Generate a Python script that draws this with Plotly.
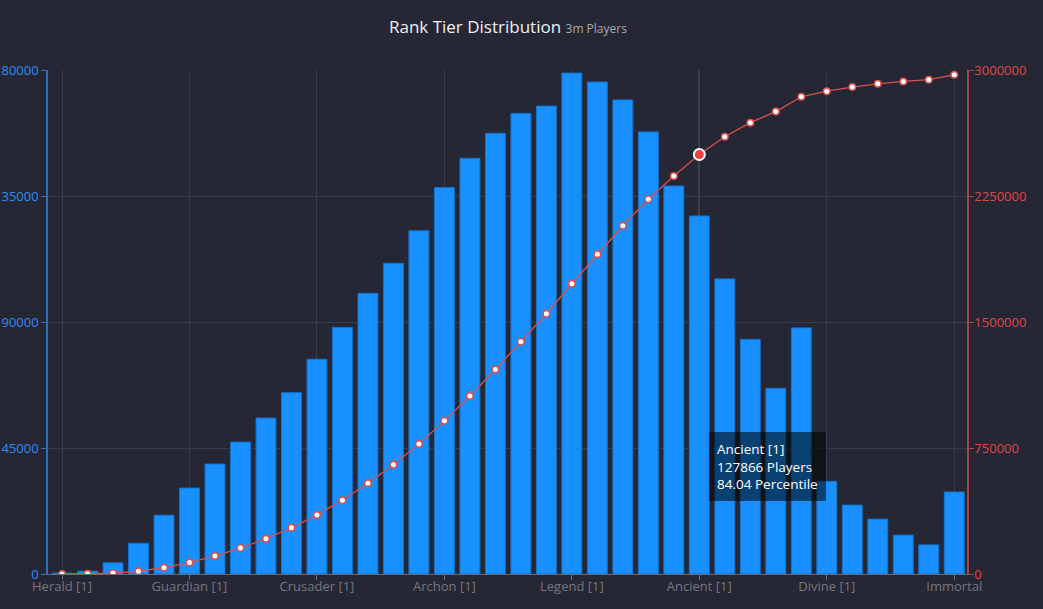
import numpy as np
import plotly.graph_objects as go

tiers = ["Herald", "Guardian", "Crusader", "Archon", "Legend", "Ancient", "Divine"]
categories = [f"{t} [{i}]" for t in tiers for i in range(1, 6)] + ["Immortal"]
tick_labels = [f"{t} [1]" for t in tiers] + ["Immortal"]

players = [
    300, 1000, 4000, 11000, 21000,
    30700, 39300, 47100, 55700, 64750,
    76700, 88100, 100250, 110960, 122600,
    138000, 148460, 157400, 164500, 167100,
    178900, 175700, 169300, 157900, 138570,
    127866, 105400, 83800, 66300, 87900,
    33100, 24600, 19600, 13900, 10400,
    29300,
]

left_ticks = [0, 45000, 90000, 135000, 180000]
right_ticks = [0, 750000, 1500000, 2250000, 3000000]

cumulative = np.cumsum(players)
percentile = cumulative / cumulative[-1] * 100
hi = categories.index("Ancient [1]")

FONT = "Open Sans, Noto Sans, sans-serif"
BLUE = "#1890ff"
RED = "#d9514e"

fig = go.Figure()
fig.add_trace(go.Bar(
    x=categories, y=players, name="Players",
    marker=dict(color=BLUE, line=dict(color="#1673cc", width=1)),
    yaxis="y",
))
fig.add_trace(go.Scatter(
    x=categories, y=cumulative, name="Cumulative", mode="lines+markers",
    line=dict(color=RED, width=1.3),
    marker=dict(size=6.5, color="white", line=dict(color=RED, width=1.5)),
    yaxis="y2",
))
fig.add_trace(go.Scatter(
    x=[categories[hi]], y=[cumulative[hi]], mode="markers",
    marker=dict(size=11, color="#ee4040", line=dict(color="white", width=2)),
    yaxis="y2", showlegend=False,
))

fig.add_shape(type="line", xref="x", yref="paper", x0=categories[hi], x1=categories[hi],
              y0=0, y1=1, line=dict(color="#c8c8c8", width=1), layer="between")

fig.add_annotation(
    xref="x", yref="paper", x=categories[hi], y=0.282, xanchor="left", yanchor="top",
    xshift=10, align="left", showarrow=False,
    text=f"{categories[hi]}<br>{players[hi]} Players<br>{percentile[hi]:.2f} Percentile",
    font=dict(family=FONT, size=13.5, color="white"),
    bgcolor="rgba(0,0,0,0.55)", borderpad=8, borderwidth=0,
)

fig.update_layout(
    width=1043, height=609,
    margin=dict(l=48, r=76, t=70, b=35),
    paper_bgcolor="#262735", plot_bgcolor="#262735",
    showlegend=False, hovermode=False, bargap=0.22,
    font=dict(family=FONT, size=13),
    title=dict(
        text="Rank Tier Distribution <span style='font-size:12px;color:#a9a9b0'>3m Players</span>",
        x=0.487, xanchor="center", y=1 - 27 / 609, yanchor="middle",
        font=dict(family=FONT, size=17, color="#f0f0f0"),
    ),
    xaxis=dict(
        type="category", categoryorder="array", categoryarray=categories,
        range=[-0.55, 35.5], automargin=False,
        tickmode="array", tickvals=tick_labels, ticktext=tick_labels,
        tickfont=dict(color="#75767f", size=13),
        ticklabelstandoff=-5,
        showgrid=True, gridcolor="#3a3b49", gridwidth=1,
        showline=True, linecolor="#6a6b75", linewidth=1,
        ticks="outside", ticklen=5, tickcolor="#6a6b75",
        zeroline=False,
    ),
    yaxis=dict(
        range=[0, 180000], tickmode="array", tickvals=left_ticks, tickformat="d",
        automargin=False,
        tickfont=dict(color="#2f8cf0", size=13),
        showgrid=True, gridcolor="#3a3b49", gridwidth=1,
        showline=True, linecolor="#2d6fc0", linewidth=1.5,
        ticks="outside", ticklen=5, tickcolor="#2d6fc0",
        zeroline=False,
    ),
    yaxis2=dict(
        range=[0, 3000000], tickmode="array", tickvals=right_ticks, tickformat="d",
        overlaying="y", side="right", automargin=False, ticklabelstandoff=-2,
        tickfont=dict(color="#e04545", size=13),
        showgrid=False,
        showline=True, linecolor="#a84444", linewidth=1.5,
        ticks="outside", ticklen=5, tickcolor="#a84444",
        zeroline=False,
    ),
)

fig.write_html(
    "out.html",
    config={"displayModeBar": False},
    post_script="document.body.style.margin='0';document.body.style.background='#262735';",
)
